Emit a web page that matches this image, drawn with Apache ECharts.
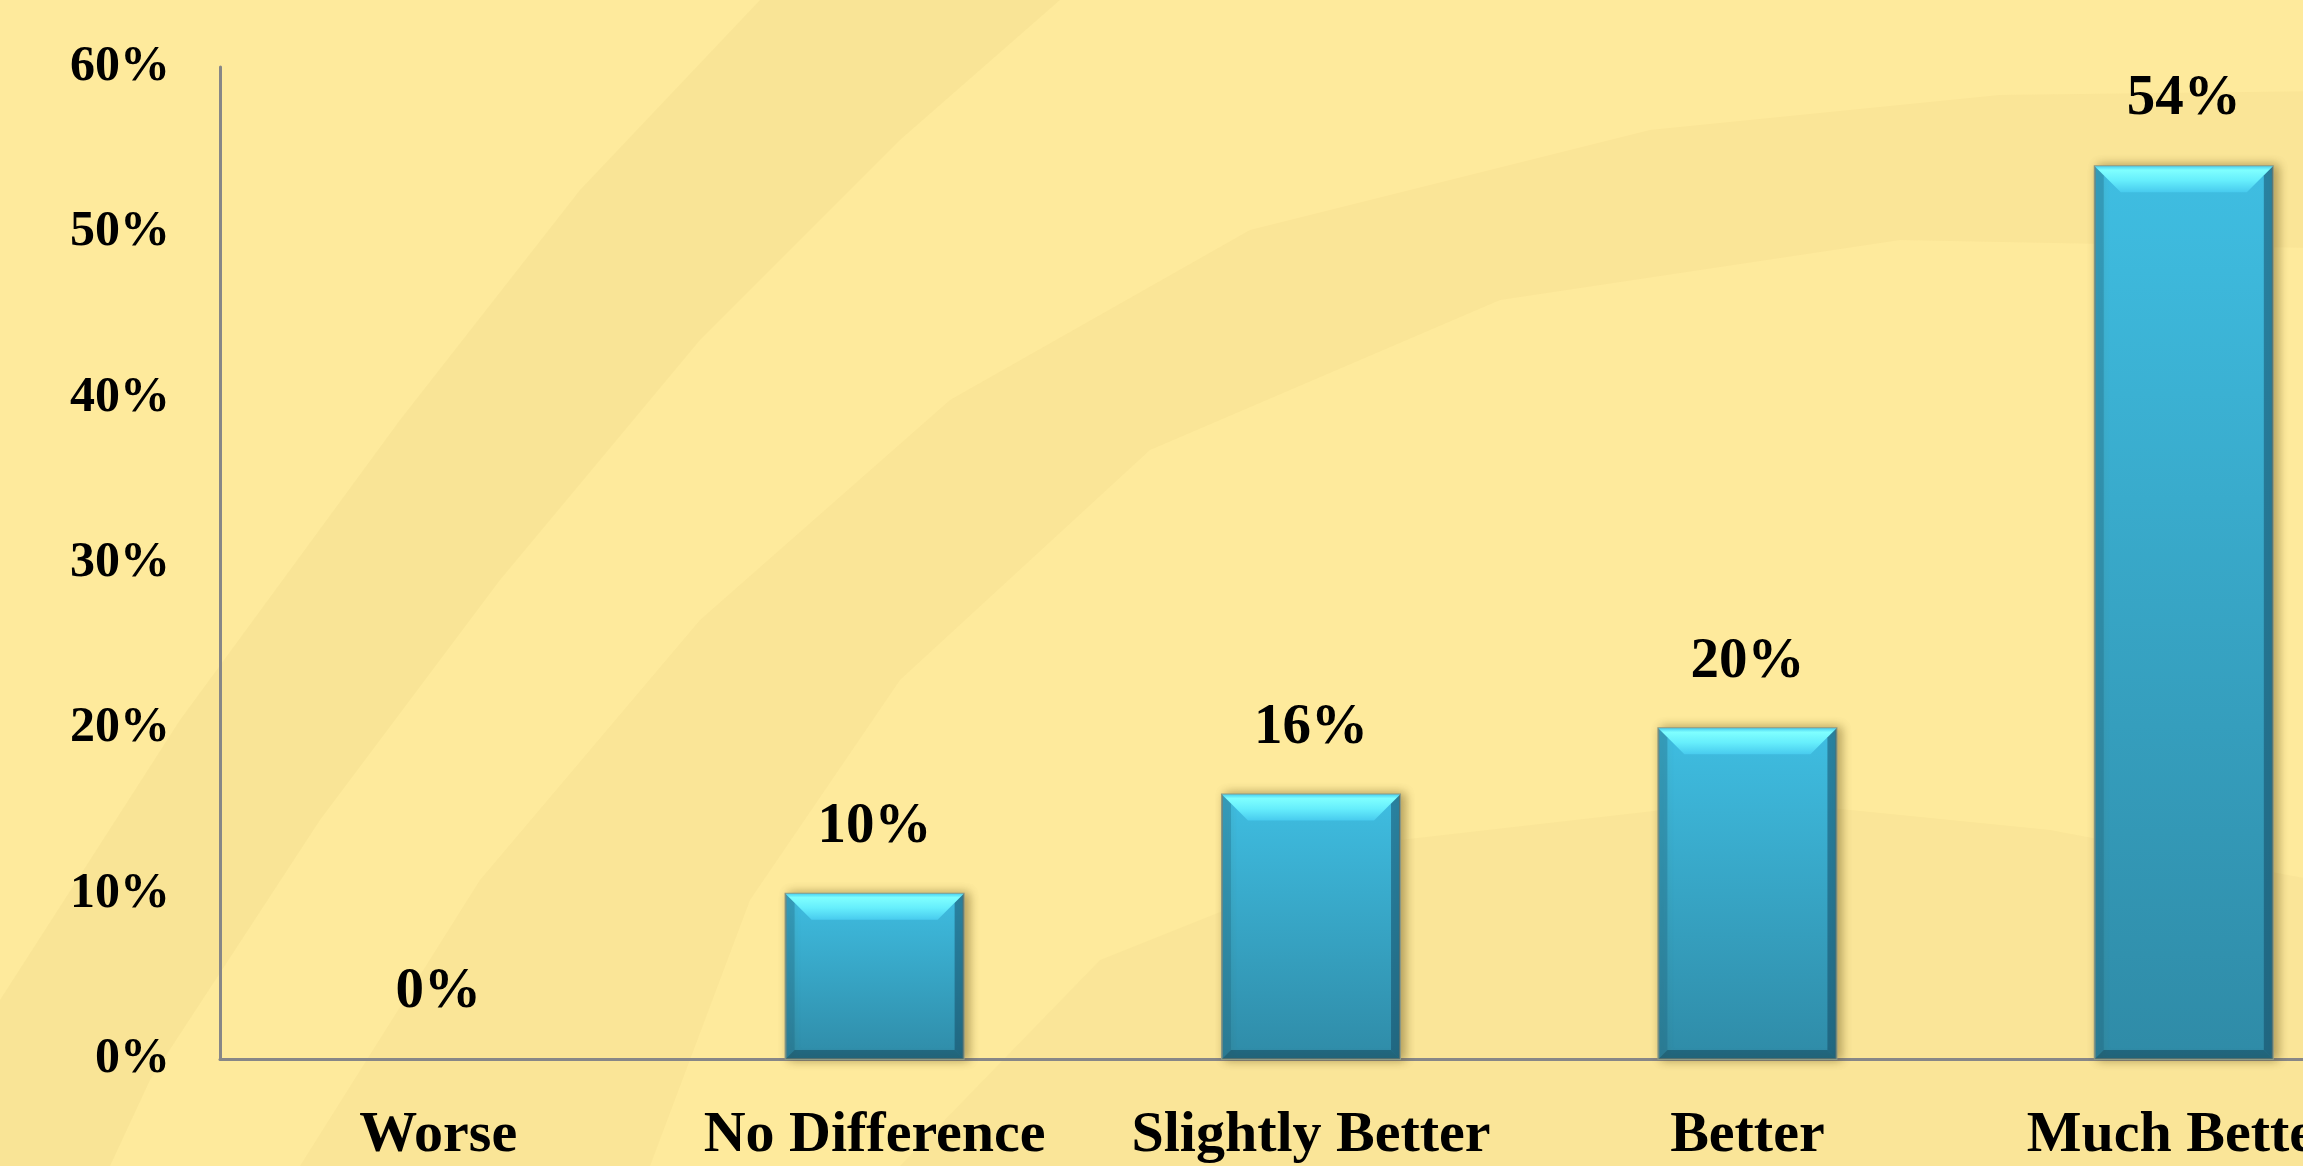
<!DOCTYPE html>
<html>
<head>
<meta charset="utf-8">
<script src="https://cdn.jsdelivr.net/npm/echarts@6/dist/echarts.min.js"></script>
<style>
html,body{margin:0;padding:0;background:#FEEA9C;overflow:hidden;width:2303px;height:1166px;}
#chart{width:2420px;height:1166px;}
</style>
</head>
<body>
<div id="chart"></div>
<script>
const categories = ['Worse', 'No Difference', 'Slightly Better', 'Better', 'Much Better'];
const values = [0, 10, 16, 20, 54];
const yTicks = { min: 0, max: 60, interval: 10 };

const FONT = '"Liberation Serif", "Times New Roman", serif';
const G = echarts.graphic;

function renderBar(params, api) {
  const idx = api.value(0);
  const v = api.value(1);
  const topPt = api.coord([idx, v]);
  const basePt = api.coord([idx, 0]);
  const bw = api.size([1, 0])[0] * 0.408;
  const x = topPt[0] - bw / 2;
  const y = topPt[1];
  const h = basePt[1] - topPt[1];
  const w = bw;
  const children = [];
  if (h > 1) {
    const t = Math.min(26, h / 2);
    const e = Math.min(9, h / 4);
    children.push({
      type: 'rect',
      shape: { x: x, y: y, width: w, height: h },
      style: {
        fill: new G.LinearGradient(0, 0, 0, 1, [
          { offset: 0, color: '#3FBEE2' },
          { offset: 1, color: '#2F8BA7' }
        ]),
        stroke: '#8C9A86', lineWidth: 2,
        shadowBlur: 10, shadowColor: 'rgba(90,70,15,0.45)', shadowOffsetX: 4
      }
    });
    children.push({
      type: 'polygon',
      shape: { points: [[x, y], [x + e, y + e], [x + e, y + h - e], [x, y + h]] },
      style: { fill: 'rgba(25,95,125,0.30)' }
    });
    children.push({
      type: 'polygon',
      shape: { points: [[x + w, y], [x + w - e, y + e], [x + w - e, y + h - e], [x + w, y + h]] },
      style: { fill: 'rgba(15,60,85,0.45)' }
    });
    children.push({
      type: 'polygon',
      shape: { points: [[x, y + h], [x + e, y + h - e], [x + w - e, y + h - e], [x + w, y + h]] },
      style: { fill: 'rgba(15,60,80,0.45)' }
    });
    children.push({
      type: 'polygon',
      shape: { points: [[x, y], [x + w, y], [x + w - t, y + t], [x + t, y + t]] },
      style: {
        fill: new G.LinearGradient(0, 0, 0, 1, [
          { offset: 0, color: '#4CD2F2' },
          { offset: 0.15, color: '#7FFFFF' },
          { offset: 0.55, color: '#66EEFC' },
          { offset: 1, color: '#48CBEE' }
        ])
      }
    });
  }
  children.push({
    type: 'text',
    style: {
      text: v + '%',
      x: topPt[0], y: y - 38,
      align: 'center', verticalAlign: 'bottom',
      textAlign: 'center', textVerticalAlign: 'bottom',
      font: 'bold 57px ' + FONT,
      fill: '#000'
    }
  });
  return { type: 'group', children: children };
}

const chart = echarts.init(document.getElementById('chart'));
chart.setOption({
  backgroundColor: '#FEEA9C',
  animation: false,
  graphic: [
    {
      type: 'polygon', z: -10, silent: true,
      shape: { points: [[760,0],[1060,0],[900,140],[700,340],[500,580],[320,820],[150,1080],[110,1166],[0,1166],[0,1000],[180,720],[400,420],[580,190]] },
      style: { fill: 'rgba(226,196,120,0.16)' }
    },
    {
      type: 'polygon', z: -10, silent: true,
      shape: { points: [[300,1166],[480,880],[700,620],[950,400],[1250,230],[1650,130],[2000,95],[2420,90],[2420,250],[1900,240],[1500,300],[1150,450],[900,680],[750,900],[650,1166]] },
      style: { fill: 'rgba(226,196,120,0.14)' }
    },
    {
      type: 'polygon', z: -10, silent: true,
      shape: { points: [[900,1166],[1100,960],[1400,840],[1750,800],[2050,830],[2420,900],[2420,1166]] },
      style: { fill: 'rgba(226,196,120,0.12)' }
    }
  ],
  grid: { left: 220, top: 67, width: 2182, height: 992, containLabel: false },
  xAxis: {
    type: 'category',
    data: categories,
    axisLine: { show: true, lineStyle: { color: '#878787', width: 3 } },
    axisTick: { show: false },
    axisLabel: {
      interval: 0, margin: 48,
      fontFamily: FONT, fontWeight: 'bold', fontSize: 58, color: '#000'
    }
  },
  yAxis: {
    type: 'value',
    min: yTicks.min, max: yTicks.max, interval: yTicks.interval,
    axisLine: { show: true, lineStyle: { color: '#878787', width: 3 } },
    axisTick: { show: false },
    splitLine: { show: false },
    axisLabel: {
      formatter: '{value}%', margin: 50,
      fontFamily: FONT, fontWeight: 'bold', fontSize: 50, color: '#000'
    }
  },
  series: [{
    type: 'custom',
    renderItem: renderBar,
    encode: { x: 0, y: 1 },
    clip: false,
    data: values.map((v, i) => [i, v])
  }]
});
</script>
</body>
</html>
